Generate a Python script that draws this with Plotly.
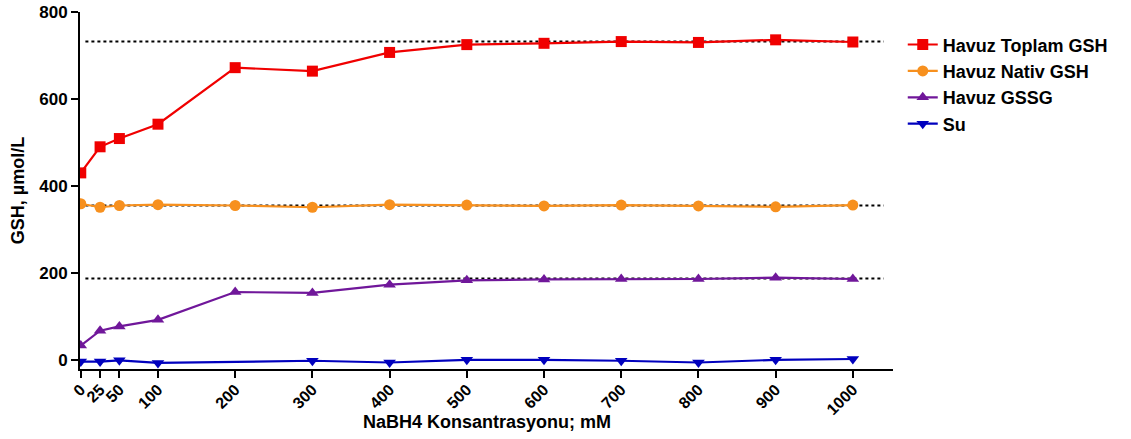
import plotly.graph_objects as go

# NaBH4 concentrations (mM)
concentrations = [0, 25, 50, 100, 200, 300, 400, 500, 600, 700, 800, 900, 1000]
tick_labels = ["0", "25", "50", "100", "200", "300", "400", "500", "600", "700", "800", "900", "1000"]

# GSH measurements (µmol/L)
toplam_gsh = [430, 490, 509, 542, 672, 664, 707, 725, 728, 732, 730, 736, 731]
nativ_gsh = [359, 351, 355, 357, 355, 351, 357, 356, 354, 356, 354, 352, 356]
gssg = [33, 67, 77, 92, 156, 154, 173, 183, 185, 186, 186, 189, 186]
su = [-4, -4, -1, -7, None, -2, -6, 0, 0, -2, -6, 0, 2]

# Plateau levels shown as dotted reference lines
plateau_levels = [732, 355, 187]
plateau_x = [6, 1040]

FONT = "Liberation Sans, Arial, sans-serif"

fig = go.Figure()

for level in plateau_levels:
    fig.add_trace(go.Scatter(
        x=plateau_x, y=[level, level], mode="lines",
        line=dict(color="black", width=2, dash="dot"),
        showlegend=False, hoverinfo="skip",
    ))

series = [
    ("Havuz Toplam GSH", toplam_gsh, "#F00000", "square", 11),
    ("Havuz Nativ GSH", nativ_gsh, "#F7901E", "circle", 11),
    ("Havuz GSSG", gssg, "#70179A", "triangle-up", 11),
    ("Su", su, "#0000BE", "triangle-down", 11),
]

for name, values, color, symbol, size in series:
    fig.add_trace(go.Scatter(
        x=concentrations, y=values, name=name, mode="lines+markers",
        connectgaps=True,
        line=dict(color=color, width=2.2),
        marker=dict(symbol=symbol, size=size, color=color, line=dict(width=0)),
    ))

# x-axis title placed as an annotation just under the rotated tick labels
fig.add_annotation(
    text="NaBH4 Konsantrasyonu; mM", xref="paper", yref="paper",
    x=0.5, y=-0.148, xanchor="center", yanchor="middle", showarrow=False,
    font=dict(family=FONT, size=18, color="black", weight="bold"),
)

fig.update_layout(
    width=1131, height=439,
    margin=dict(l=80, r=238, t=12, b=70),
    paper_bgcolor="white", plot_bgcolor="white",
    font=dict(family=FONT, size=16, color="black"),
    legend=dict(
        x=1.012, y=0.96, xanchor="left", yanchor="top",
        font=dict(family=FONT, size=18, color="black", weight="bold"),
        tracegroupgap=0, itemwidth=30,
        bgcolor="rgba(0,0,0,0)",
    ),
    xaxis=dict(
        range=[-1, 1052], tickmode="array",
        tickvals=concentrations, ticktext=tick_labels,
        tickangle=-45, ticks="outside", ticklen=7, tickwidth=2, tickcolor="black",
        ticklabelstandoff=-4,
        showline=True, linecolor="black", linewidth=2,
        showgrid=False, zeroline=False, automargin=False,
        tickfont=dict(family=FONT, size=16, color="black", weight="bold"),
    ),
    yaxis=dict(
        range=[-21, 800], tickvals=[0, 200, 400, 600, 800],
        ticks="outside", ticklen=7, tickwidth=2, tickcolor="black",
        showline=True, linecolor="black", linewidth=2,
        showgrid=False, zeroline=False, automargin=False,
        tickfont=dict(family=FONT, size=17, color="black", weight="bold"),
        title=dict(text="GSH, µmol/L", standoff=10,
                   font=dict(family=FONT, size=18, color="black", weight="bold")),
    ),
)

fig.write_html("out.html")
